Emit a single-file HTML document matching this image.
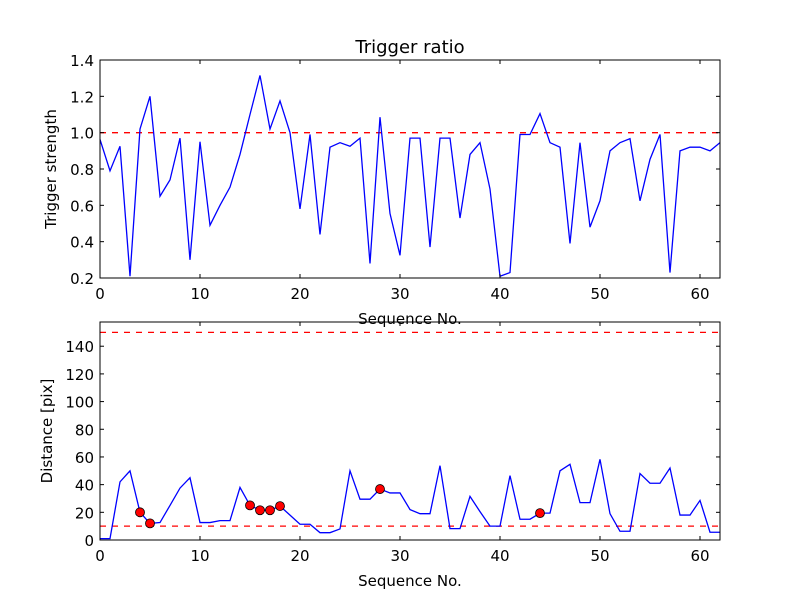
<!DOCTYPE html>
<html><head><meta charset="utf-8"><style>
body{margin:0;background:#fff}
svg{display:block;font-family:"DejaVu Sans","Liberation Sans",sans-serif}
</style></head><body>
<svg id="chart" width="800" height="600">
<rect width="800" height="600" fill="#fff"/>
<text x="410" y="53" font-size="18" text-anchor="middle">Trigger ratio</text>
<g id="top"></g>
<g id="bot"></g>
</svg>
<script>
const seqIdx = Array.from({length:63},(_,i)=>i);
const strength = [0.963,0.79,0.925,0.21,1.02,1.2,0.65,0.74,0.97,0.30,0.95,0.49,0.6,0.7,0.88,1.1,1.315,1.02,1.175,1.0,0.58,0.99,0.44,0.92,0.945,0.925,0.97,0.28,1.085,0.555,0.325,0.97,0.97,0.37,0.97,0.97,0.53,0.88,0.945,0.69,0.21,0.23,0.99,0.99,1.105,0.945,0.92,0.39,0.945,0.48,0.625,0.9,0.945,0.967,0.625,0.853,0.99,0.23,0.9,0.92,0.92,0.9,0.945];
const distance = [1,1,42,50,20,12,12.6,25,37.5,45,12.6,12.6,14,14,38,25,21.5,21.5,24.5,18,11.4,11.4,5.3,5.3,8,50,29.5,29.5,36.8,34,34,22,19,19,53.7,8.2,8.2,31.5,20.5,10,10,46.5,15,15,19.4,19.4,50,54.7,27,27,58.3,19,6.3,6.3,48,41,41,52,18,18,28.6,5.6,5.6];
const markerIdx = [4,5,15,16,17,18,28,44];
const topThreshold = [1.0];
const botThresholds = [10,150];
const xTicks = [0,10,20,30,40,50,60];
const topYTicks = [0.2,0.4,0.6,0.8,1.0,1.2,1.4];
const botYTicks = [0,20,40,60,80,100,120,140];

const NS="http://www.w3.org/2000/svg";
function mk(parent,tag,attrs){const e=document.createElementNS(NS,tag);for(const k in attrs)e.setAttribute(k,attrs[k]);parent.appendChild(e);return e;}

function panel(g,top,yMin,yMax,yTicks,yFmt,ys,thr,ylabel,prefix){
  const L=100,R=720,T=top,B=top+218;
  const sx=v=>L+(v-0)/62*(R-L);
  const sy=v=>B-(v-yMin)/(yMax-yMin)*(B-T);
  for(const t of thr){
    const l=mk(g,'line',{x1:L,x2:R,y1:sy(t),y2:sy(t),stroke:'#ff0000','stroke-width':1.3,'stroke-dasharray':'6,6'});
    
    
  }
  const p=mk(g,'polyline',{points:ys.map((v,i)=>sx(seqIdx[i])+','+sy(v)).join(' '),fill:'none',stroke:'#0000ff','stroke-width':1.3});
  
  
  const ax=mk(g,'rect',{x:L,y:T,width:R-L,height:B-T,fill:'none',stroke:'#000','stroke-width':1});
  
  
  for(const t of xTicks){
    const x=sx(t);
    mk(g,'line',{x1:x,x2:x,y1:B,y2:B-4,stroke:'#000'});
    mk(g,'line',{x1:x,x2:x,y1:T,y2:T+4,stroke:'#000'});
    const tx=mk(g,'text',{x:x,y:B+21,'font-size':15,'text-anchor':'middle'});tx.textContent=t;
    
    
  }
  for(const t of yTicks){
    const y=sy(t);
    mk(g,'line',{x1:L,x2:L+4,y1:y,y2:y,stroke:'#000'});
    mk(g,'line',{x1:R,x2:R-4,y1:y,y2:y,stroke:'#000'});
    const tx=mk(g,'text',{x:L-6,y:y+6,'font-size':15,'text-anchor':'end'});tx.textContent=yFmt(t);
    
    
  }
  const xl=mk(g,'text',{x:(L+R)/2,y:B+46,'font-size':15,'text-anchor':'middle'});xl.textContent='Sequence No.';
  
  
  const cy=(T+B)/2, cx=prefix==='top'?56:52;
  const yl=mk(g,'text',{x:cx,y:cy,'font-size':15,'text-anchor':'middle',transform:`rotate(-90 ${cx} ${cy})`});yl.textContent=ylabel;
  
  
  return {sx,sy};
}
const topG=document.getElementById('top'), botG=document.getElementById('bot');
panel(topG,60,0.2,1.4,topYTicks,v=>v.toFixed(1),strength,topThreshold,'Trigger strength','top');
const b=panel(botG,322,0,157.5,botYTicks,v=>String(v),distance,botThresholds,'Distance [pix]','bot');
for(const i of markerIdx){
  const c=mk(botG,'circle',{cx:b.sx(seqIdx[i]),cy:b.sy(distance[i]),r:4.5,fill:'#ff0000',stroke:'#000','stroke-width':0.8});
  
  
}
</script>
</body></html>
